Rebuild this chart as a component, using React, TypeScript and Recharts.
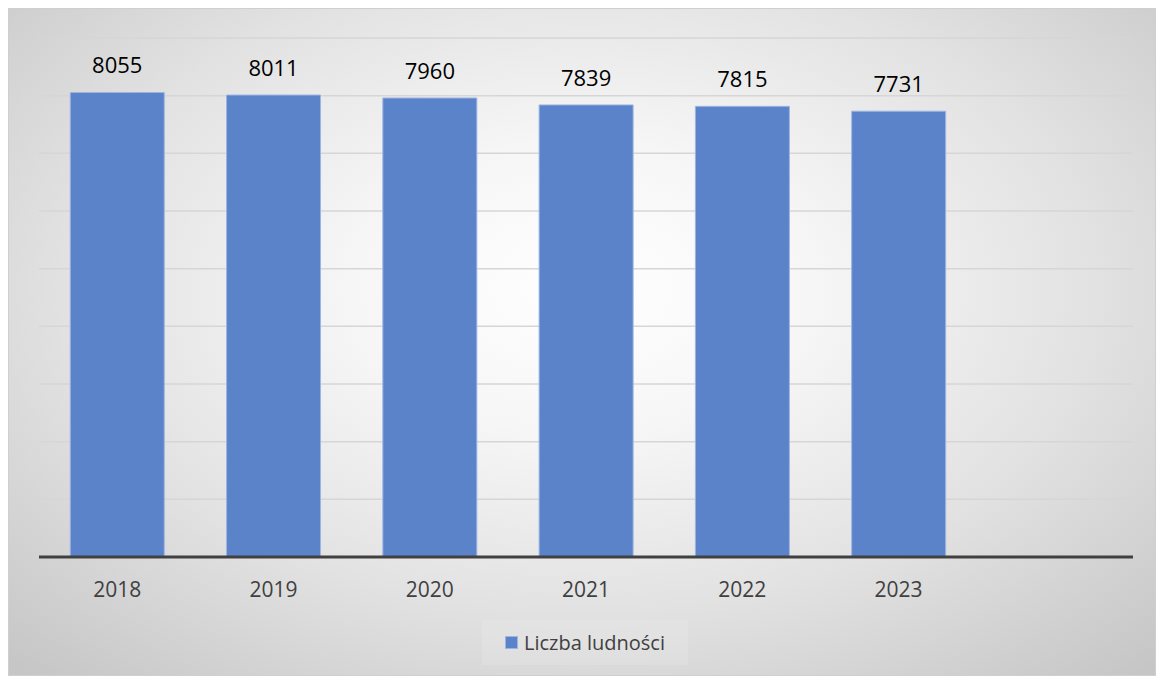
import React from "react";
import {
    BarChart,
    Bar,
    XAxis,
    YAxis,
    CartesianGrid,
    LabelList,
    Legend,
} from "recharts";

// values; the last slot is an empty category
const years = ["2018", "2019", "2020", "2021", "2022", "2023", ""];
const population: (number | null)[] = [8055, 8011, 7960, 7839, 7815, 7731, null];
const yTicks = [0, 1000, 2000, 3000, 4000, 5000, 6000, 7000, 8000, 9000];
const seriesName = "Liczba ludności";

const data = years.map((year, i) => ({ year, value: population[i] }));

const BAR_FILL = "#5b83ca";
const BAR_STROKE = "#9db5e2";
const FONT = "'Open Sans', 'Noto Sans', sans-serif";

const LegendContent = () => (
    <div
        style={{
            display: "flex",
            alignItems: "center",
            justifyContent: "center",
            height: "100%",
            background: "rgba(255,255,255,0.12)",
        }}
    >
        <span
            style={{
                display: "inline-block",
                width: 13,
                height: 13,
                background: BAR_FILL,
                border: `1px solid ${BAR_STROKE}`,
                boxSizing: "border-box",
                marginRight: 6,
            }}
        />
        <span style={{ fontSize: 20, color: "#404040", fontFamily: FONT }}>
            {seriesName}
        </span>
    </div>
);

const App: React.FC = () => {
    return (
        <div
            style={{
                position: "absolute",
                left: 8,
                top: 8,
                width: 1148,
                height: 668,
                fontFamily: FONT,
                boxSizing: "border-box",
                border: "1px solid #cfcfcf",
                background:
                    "radial-gradient(ellipse 72% 78% at 50% 42%, #ffffff 0%, #f6f6f6 28%, #e2e2e2 62%, #c6c6c6 100%)",
            }}
        >
            <BarChart
                width={1146}
                height={666}
                data={data}
                margin={{ top: 29, right: 22, left: 30, bottom: 0 }}
                barCategoryGap="20%"
            >
                <CartesianGrid
                    vertical={false}
                    stroke="#d6d6d6"
                    strokeWidth={1.5}
                />
                <YAxis hide domain={[0, 9000]} ticks={yTicks} />
                <XAxis
                    dataKey="year"
                    height={118}
                    tickLine={false}
                    tickSize={0}
                    tickMargin={25}
                    axisLine={{ stroke: "#404040", strokeWidth: 3 }}
                    tick={{ fill: "#404040", fontSize: 21 }}
                    interval={0}
                />
                <Legend
                    layout="horizontal"
                    verticalAlign="middle"
                    align="center"
                    content={<LegendContent />}
                    wrapperStyle={{ left: 473, top: 611, width: 206, height: 45 }}
                />
                <Bar
                    dataKey="value"
                    name={seriesName}
                    fill={BAR_FILL}
                    stroke={BAR_STROKE}
                    strokeWidth={1}
                    isAnimationActive={false}
                >
                    <LabelList
                        dataKey="value"
                        position="top"
                        offset={19}
                        fill="#000000"
                        fontSize={22}
                        formatter={(v: any) => (v == null ? "" : v)}
                    />
                </Bar>
            </BarChart>
        </div>
    );
};

export default App;
